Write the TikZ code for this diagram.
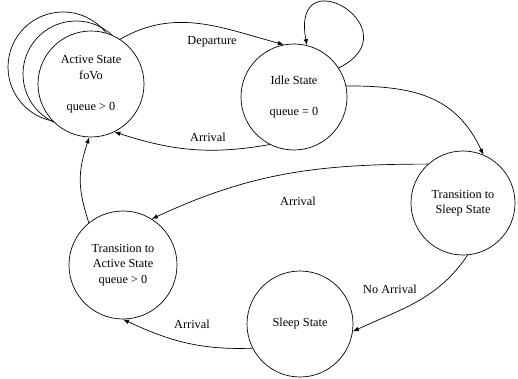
\documentclass[tikz,border=0pt]{standalone}
\usepackage{fontspec}
\setmainfont{Liberation Serif}
\usetikzlibrary{arrows.meta}
\begin{document}
\begin{tikzpicture}[x=1pt,y=-1pt,
  state/.style={circle,draw,line width=0.7pt,minimum size=106pt,inner sep=0pt,
    align=center,font=\fontsize{12.3}{15.5}\selectfont,fill=white},
  backc/.style={circle,draw,line width=0.7pt,inner sep=0pt},
  edge/.style={draw,line width=0.7pt,-{Latex[length=6pt,width=4.5pt]}},
  lbl/.style={font=\fontsize{12.3}{15}\selectfont,inner sep=0pt}]
\useasboundingbox (0,0) rectangle (518,379);
% stacked shadow circles behind the active state
\node[backc,minimum size=110pt] (back1) at (63,67) {};
\node[backc,minimum size=106pt] (back2) at (76,74) {};
\node[state] (active) at (91,84) {Active State\\foVo\\\mbox{}\\queue > 0};
\node[state] (idle) at (294,97) {Idle State\\\mbox{}\\queue = 0};
\node[state,minimum size=104pt] (tsleep) at (463,203) {Transition to\\Sleep State};
\node[state,minimum size=108pt] (tactive) at (123,265) {Transition to\\Active State\\queue > 0};
\node[state] (sleep) at (300,324) {Sleep State};
% edges
\draw[edge] (active.57) to[out=30,in=165] (idle.101);
\draw[edge] (idle.243) to[out=190,in=-18] (active.-64);
\draw[edge] (idle.33) .. controls (415,30) and (290,-45) .. (idle.76);
\draw[edge] (idle.12) to[out=0,in=115,looseness=1.1] (tsleep.67);
\draw[edge] (tsleep.132) to[out=180,in=25] (tactive.58);
\draw[edge] (tactive.129) to[out=108,in=-108,looseness=1.1] (active.-92);
\draw[edge] (tsleep.-85) to[out=-124,in=25] (sleep.-8);
\draw[edge] (sleep.-153) to[out=182,in=-25] (tactive.-90);
% labels
\node[lbl] (ldep) at (212,42) {Departure};
\node[lbl] (larr1) at (208,137) {Arrival};
\node[lbl] (larr2) at (298,201) {Arrival};
\node[lbl] (lnoarr) at (390,289) {No Arrival};
\node[lbl] (larr3) at (192,324) {Arrival};
\end{tikzpicture}
\end{document}
